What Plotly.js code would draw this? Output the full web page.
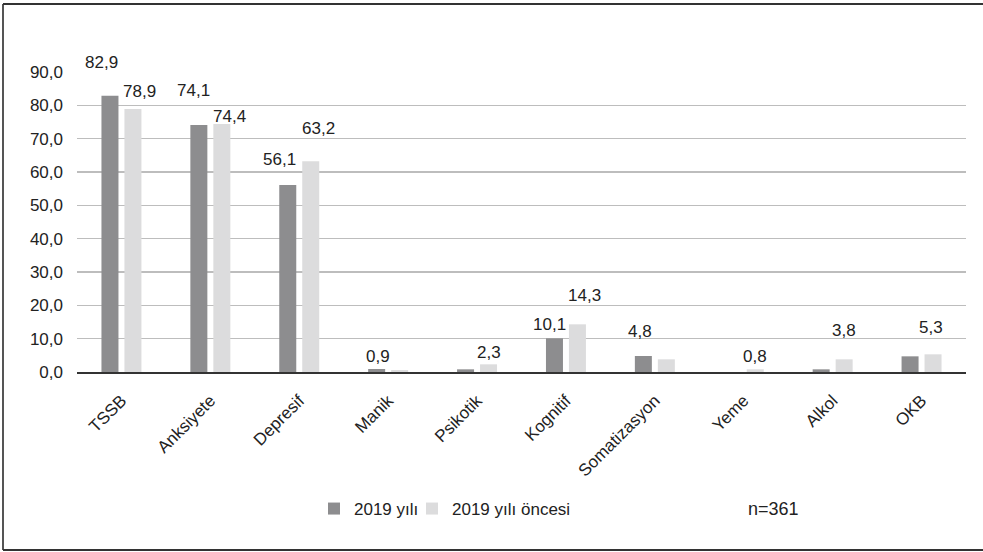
<!DOCTYPE html>
<html>
<head>
<meta charset="utf-8">
<script src="https://cdn.plot.ly/plotly-3.0.1.min.js"></script>
<style>
  html, body { margin: 0; padding: 0; background: #fff; }
  #chart { width: 983px; height: 552px; }
</style>
</head>
<body>
<div id="chart"></div>
<script>
// ---- data ----
const categories = ['TSSB', 'Anksiyete', 'Depresif', 'Manik', 'Psikotik', 'Kognitif', 'Somatizasyon', 'Yeme', 'Alkol', 'OKB'];
const values2019 = [82.9, 74.1, 56.1, 0.9, 0.8, 10.1, 4.8, 0, 0.8, 4.7];
const valuesBefore = [78.9, 74.4, 63.2, 0.6, 2.3, 14.3, 3.8, 0.8, 3.8, 5.3];
const seriesNames = ['2019 yılı', '2019 yılı öncesi'];
const yTickVals = [0, 10, 20, 30, 40, 50, 60, 70, 80, 90];
const noteText = 'n=361';

// ---- label placement (style only; null = label hidden) ----
const labelShift2019 = [[-8, 33], [-5, 35], [-8, 26], [1, 13], null, [-5, 14], [-3, 25], null, null, null];
const labelShiftBefore = [[7, 18], [8, 8], [8, 33], null, [0, 12], [7, 29], null, [0, 13], [0, 29], [-2, 27]];

const W = 983, H = 552;
const M = { l: 77, r: 17, t: 72, b: 180 };
const plotW = W - M.l - M.r, plotH = H - M.t - M.b;
const font = 'Liberation Sans, Arial, Helvetica, sans-serif';
const darkCol = '#8d8d8f', lightCol = '#dcdcdd';
const barHalfGap = 11.5;

const fmt = v => v.toFixed(1).replace('.', ',');

const annotations = [];
function addLabels(vals, shifts, sign) {
  vals.forEach((v, i) => {
    const s = shifts[i];
    if (!s) return;
    annotations.push({
      x: categories[i], y: v, xref: 'x', yref: 'y',
      text: fmt(v), showarrow: false,
      xanchor: 'center', yanchor: 'middle',
      xshift: sign * barHalfGap + s[0], yshift: s[1],
      font: { family: font, size: 17, color: '#222' }
    });
  });
}
addLabels(values2019, labelShift2019, -1);
addLabels(valuesBefore, labelShiftBefore, 1);

// frame lines / positions (pixel -> paper)
const px = p => (p - M.l) / plotW;
const py = p => (M.t + plotH - p) / plotH;

annotations.push({
  xref: 'paper', yref: 'paper',
  x: px(801), y: py(509),
  xanchor: 'right', yanchor: 'middle',
  text: noteText, showarrow: false,
  font: { family: font, size: 18, color: '#222' }
});

const shapes = [
  { type: 'line', xref: 'paper', yref: 'paper', x0: px(3), x1: px(3), y0: py(4), y1: py(550), line: { color: '#555', width: 2 } },
  { type: 'line', xref: 'paper', yref: 'paper', x0: px(3), x1: px(983), y0: py(4), y1: py(4), line: { color: '#333', width: 2 } },
  { type: 'line', xref: 'paper', yref: 'paper', x0: px(3), x1: px(983), y0: py(550), y1: py(550), line: { color: '#333', width: 2 } }
];

const traces = [
  { type: 'bar', name: seriesNames[0], x: categories, y: values2019, marker: { color: darkCol }, hoverinfo: 'skip', legend: 'legend' },
  { type: 'bar', name: seriesNames[1], x: categories, y: valuesBefore, marker: { color: lightCol }, hoverinfo: 'skip', legend: 'legend2' }
];

const legendBase = {
  orientation: 'h', xanchor: 'left', yanchor: 'middle',
  font: { family: font, size: 17, color: '#222' },
  itemwidth: 30, bgcolor: 'rgba(0,0,0,0)'
};

const layout = {
  width: W, height: H,
  margin: M,
  paper_bgcolor: '#fff', plot_bgcolor: '#fff',
  separators: ',.',
  barmode: 'group', bargap: 0.483, bargroupgap: 0.26,
  font: { family: font, size: 17, color: '#222' },
  xaxis: {
    type: 'category', tickangle: -45,
    showline: true, linecolor: '#333', linewidth: 2,
    showgrid: false, ticks: '', ticklabelstandoff: 10,
    tickfont: { family: font, size: 17, color: '#222' }
  },
  yaxis: {
    range: [0, 90], tickvals: yTickVals, tickformat: '.1f',
    showgrid: true, gridcolor: '#bdbdbd', gridwidth: 1.5,
    zeroline: false, showline: false, ticks: '', ticklabelstandoff: 13,
    tickfont: { family: font, size: 17, color: '#222' }
  },
  showlegend: true,
  legend: Object.assign({}, legendBase, { x: px(314), y: py(509) }),
  legend2: Object.assign({}, legendBase, { x: px(412), y: py(509) }),
  annotations: annotations,
  shapes: shapes
};

Plotly.newPlot('chart', traces, layout, { staticPlot: true, displayModeBar: false });
</script>
</body>
</html>
